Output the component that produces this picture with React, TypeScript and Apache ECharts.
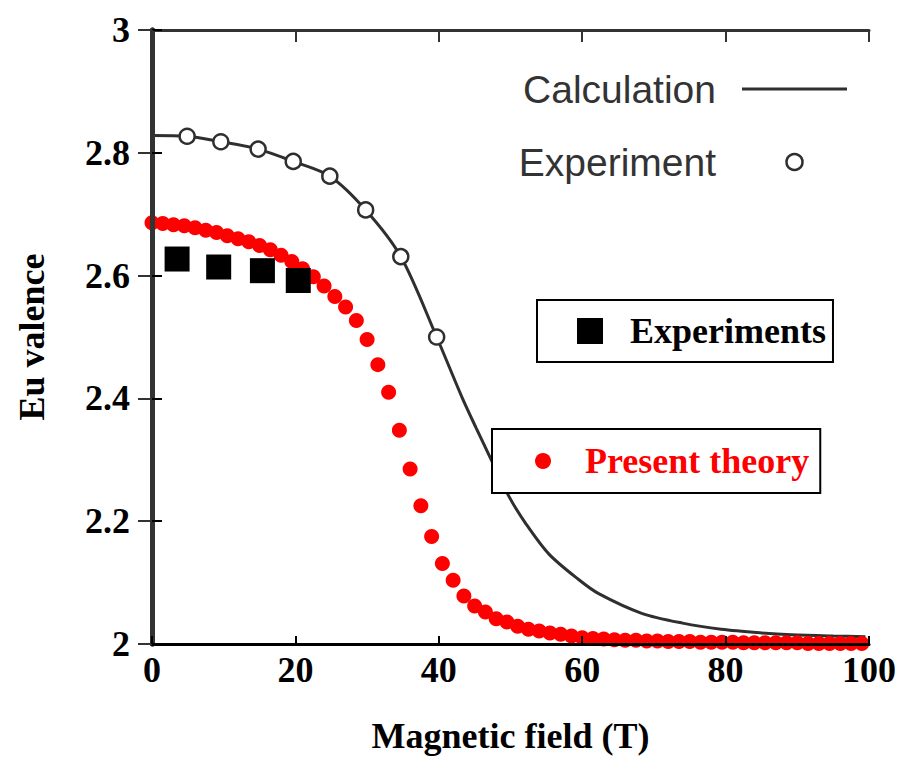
import React, { useEffect, useRef } from 'react';
import * as echarts from 'echarts';

// Calculation (scanned solid curve)
const calcX = [0, 4.9, 9.6, 14.8, 19.7, 24.8, 29.8, 34.7, 39.7, 43.3, 45.2, 47.4, 49.8, 52.2, 55.4, 59.5, 62.3, 68.3, 74, 79.4, 85, 89.2, 95, 99.5];
const calcY = [2.828, 2.827, 2.818, 2.806, 2.786, 2.762, 2.707, 2.631, 2.5, 2.4, 2.352, 2.298, 2.24, 2.195, 2.146, 2.105, 2.082, 2.05, 2.034, 2.024, 2.018, 2.015, 2.013, 2.012];

// Experiment (scanned open circles)
const expX = [4.9, 9.6, 14.8, 19.7, 24.8, 29.8, 34.7, 39.7];
const expY = [2.827, 2.818, 2.806, 2.786, 2.762, 2.707, 2.631, 2.5];

// Present theory (red dots)
const theoryX = [0, 1.5, 3, 4.5, 6, 7.5, 9, 10.5, 12, 13.5, 15, 16.5, 18, 19.5, 21, 22.5, 24, 25.5, 27, 28.5, 30, 31.5, 33, 34.5, 36, 37.5, 39, 40.5, 42, 43.5, 45, 46.5, 48, 49.5, 51, 52.5, 54, 55.5, 57, 58.5, 60, 61.5, 63, 64.5, 66, 67.5, 69, 70.5, 72, 73.5, 75, 76.5, 78, 79.5, 81, 82.5, 84, 85.5, 87, 88.5, 90, 91.5, 93, 94.5, 96, 97.5, 99];
const theoryY = [2.686, 2.685, 2.683, 2.681, 2.678, 2.674, 2.67, 2.665, 2.66, 2.655, 2.649, 2.642, 2.633, 2.623, 2.611, 2.598, 2.583, 2.566, 2.549, 2.527, 2.496, 2.455, 2.41, 2.348, 2.285, 2.225, 2.175, 2.131, 2.104, 2.078, 2.062, 2.052, 2.041, 2.036, 2.029, 2.024, 2.021, 2.018, 2.016, 2.013, 2.01, 2.009, 2.008, 2.007, 2.006, 2.006, 2.005, 2.005, 2.004, 2.004, 2.004, 2.003, 2.003, 2.003, 2.003, 2.002, 2.002, 2.002, 2.002, 2.002, 2.002, 2.001, 2.001, 2.001, 2.001, 2.001, 2.001];

// Experiments (black squares)
const squareX = [3.5, 9.3, 15.4, 20.4];
const squareY = [2.627, 2.614, 2.608, 2.592];

const xName = 'Magnetic field (T)';
const yName = 'Eu valence';

const zip = (xs: number[], ys: number[]) => xs.map((x, i) => [x, ys[i]]);

const SERIF = '"Liberation Serif", "Times New Roman", serif';
const SANS = '"Liberation Sans", Arial, sans-serif';
const SCAN = '#2f2f2f';

export default function App() {
  const ref = useRef<HTMLDivElement>(null);
  useEffect(() => {
    const chart = echarts.init(ref.current as HTMLDivElement, null, { renderer: 'svg' });
    const option: any = {
      animation: false,
      backgroundColor: '#ffffff',
      grid: { left: 152, right: 28, top: 30, bottom: 112 },
      legend: [
        {
          data: ['Experiments'],
          left: 537,
          top: 300,
          orient: 'horizontal',
          selectedMode: false,
          backgroundColor: '#ffffff',
          borderColor: '#000000',
          borderWidth: 2,
          padding: [11, 7, 11, 40],
          itemWidth: 26,
          itemHeight: 26,
          textStyle: { fontFamily: SERIF, fontWeight: 'bold', fontSize: 36, color: '#000', lineHeight: 40, padding: [0, 0, 0, 22] },
        },
        {
          data: ['Present theory'],
          left: 492,
          top: 429,
          orient: 'horizontal',
          selectedMode: false,
          backgroundColor: '#ffffff',
          borderColor: '#000000',
          borderWidth: 2,
          padding: [12, 11, 12, 43],
          itemWidth: 16,
          itemHeight: 16,
          textStyle: { fontFamily: SERIF, fontWeight: 'bold', fontSize: 36, color: '#ff0000', lineHeight: 40, padding: [0, 0, 0, 29] },
        },
        {
          data: [
            { name: 'Calculation', icon: 'path://M0,0H105V3H0Z' },
            { name: 'Experiment', itemStyle: { color: '#ffffff', borderColor: SCAN, borderWidth: 2.5 } },
          ],
          right: 52,
          top: 67,
          orient: 'vertical',
          align: 'right',
          selectedMode: false,
          padding: 0,
          itemWidth: 105,
          itemHeight: 16,
          itemGap: 29,
          textStyle: { fontFamily: SANS, fontSize: 39, color: '#333333', lineHeight: 44, padding: [0, 21, 0, 0] },
        },
      ],
      xAxis: [
        {
          type: 'value',
          position: 'bottom',
          min: 0,
          max: 100,
          interval: 20,
          z: 10,
          name: xName,
          nameLocation: 'middle',
          nameGap: 74,
          nameTextStyle: { fontFamily: SERIF, fontWeight: 'bold', fontSize: 36, color: '#000' },
          axisLine: { lineStyle: { color: '#000', width: 3 } },
          axisTick: { inside: true, length: 8, lineStyle: { color: '#000', width: 2 } },
          axisLabel: { fontFamily: SERIF, fontWeight: 'bold', fontSize: 36, color: '#000', margin: 8 },
          splitLine: { show: false },
        },
        {
          type: 'value',
          position: 'top',
          min: 0,
          max: 100,
          interval: 20,
          z: 10,
          axisLine: { lineStyle: { color: '#333', width: 3 } },
          axisTick: { inside: true, length: 12, lineStyle: { color: '#333', width: 2 } },
          axisLabel: { show: false },
          splitLine: { show: false },
        },
      ],
      yAxis: [
        {
          type: 'value',
          position: 'left',
          min: 2,
          max: 3,
          interval: 0.2,
          z: 10,
          name: yName,
          nameLocation: 'middle',
          nameGap: 102,
          nameTextStyle: { fontFamily: SERIF, fontWeight: 'bold', fontSize: 36, color: '#000' },
          axisLine: { lineStyle: { color: '#111', width: 5 } },
          axisTick: { inside: true, length: 10, lineStyle: { color: '#000', width: 2 } },
          axisLabel: {
            fontFamily: SERIF,
            fontWeight: 'bold',
            fontSize: 36,
            color: '#000',
            margin: 22,
            formatter: (v: number) => String(+v.toFixed(1)),
          },
          splitLine: { show: false },
        },
        {
          type: 'value',
          position: 'right',
          min: 2,
          max: 3,
          interval: 0.2,
          z: 10,
          axisLine: { lineStyle: { color: '#333', width: 5 } },
          axisTick: { inside: true, length: 14, lineStyle: { color: '#333', width: 2 } },
          axisLabel: { show: false },
          splitLine: { show: false },
        },
      ],
      series: [
        {
          name: 'Calculation',
          type: 'line',
          data: zip(calcX, calcY),
          symbol: 'none',
          smooth: 0.3,
          lineStyle: { color: SCAN, width: 3 },
          itemStyle: { color: SCAN },
          z: 2,
        },
        {
          name: 'Experiment',
          type: 'scatter',
          data: zip(expX, expY),
          symbol: 'circle',
          symbolSize: 15,
          itemStyle: { color: '#ffffff', borderColor: SCAN, borderWidth: 2.5, opacity: 1 },
          z: 3,
        },
        {
          name: 'Present theory',
          type: 'scatter',
          data: zip(theoryX, theoryY),
          symbol: 'circle',
          symbolSize: 15,
          itemStyle: { color: '#ff0000', opacity: 1 },
          z: 4,
        },
        {
          name: 'Experiments',
          type: 'scatter',
          data: zip(squareX, squareY),
          symbol: 'rect',
          symbolSize: 25,
          itemStyle: { color: '#000000', opacity: 1 },
          z: 5,
        },
      ],
    };
    chart.setOption(option);
    return () => chart.dispose();
  }, []);
  return (
    <div
      ref={ref}
      style={{ position: 'absolute', left: 0, top: 0, width: 899, height: 759, background: '#ffffff' }}
    />
  );
}
